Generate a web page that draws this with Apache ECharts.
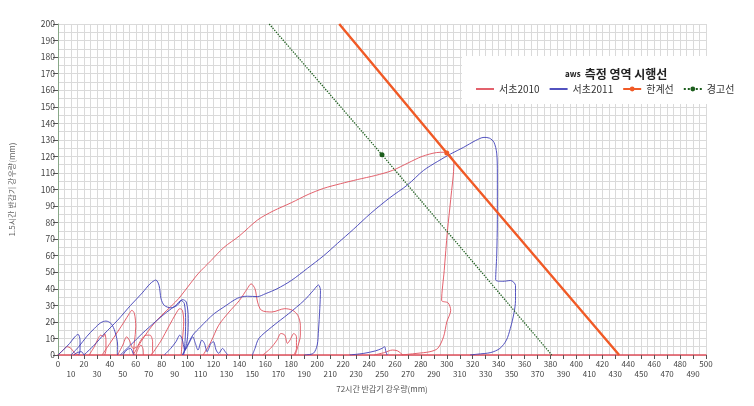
<!DOCTYPE html>
<html><head><meta charset="utf-8">
<script src="https://cdn.jsdelivr.net/npm/echarts@6/dist/echarts.min.js"></script>
<style>html,body{margin:0;padding:0;background:#fff}#c{width:754px;height:406px}</style>
</head><body><div id="c"></div>
<script>
const FONT = "'Noto Sans CJK KR', 'Noto Sans', sans-serif";
const xAxisName = '72시간 반감기 강우량(mm)';
const yAxisName = '1.5시간 반감기 강우량(mm)';
const titleSmall = 'aws';
const titleMain = '측정 영역 시행선';
const legendNames = ['서초2010', '서초2011', '한계선', '경고선'];
const xMin = 0, xMax = 500, xStep = 10;
const yMin = 0, yMax = 200, yStep = 10;

// 서초2010 (red) event loops
const red1 = [[0,0],[4,3],[7,5],[10,4],[13,1],[16,0]];
const red2 = [[24,0],[28,5],[31,10],[33,12],[35,11],[36,13],[37,9],[37,3],[36,0]];
const red3 = [[34,0],[40,7],[46,14],[51,20],[55,25],[57,27],[59,25],[60,17],[59,8],[58,0]];
const red4 = [[46,0],[50,6],[53,11],[55,9],[58,4],[61,5],[64,9],[68,12],[71,12],[73,8],[73,2],[72,0]];
const red5 = [[60,0],[62,4],[64,6],[65.5,4],[66,0]];
const red6 = [[58,0],[64,8],[72,17],[80,24],[88,30],[93,34],[100,41],[108,49],[118,57],[128,65],[140,72],[154,81.6],[166,87],[180,92],[193,97],[205,100.7],[218,103.5],[231,106],[245,108.5],[258,111.5],[270,116],[281,120],[292,122.3],[298,122.5],[302,121.3],[305.5,116],[303,94],[300.5,75],[298,51],[296,33],[301,31.5],[303,27],[300,20],[297.5,11],[293,4],[287,2],[277,1],[265,0]];
const red7 = [[72,0],[79,8],[86,18],[91,25],[94,28],[96,27],[97,20],[96,9],[95,0]];
const red8 = [[112,0],[118,8],[124,18],[132,26],[140,33],[146,40],[149,43],[152,40],[154,32],[157,27],[165,26],[175,28],[181,27],[185,24],[187,18],[187,12],[185,5],[183,0]];
const red9 = [[158,0],[164,4],[169,9],[172,13],[175,12],[177,7],[179,9],[182,13],[184,11],[184,4],[182,0]];
const red10 = [[244,0],[252,1.5],[258,3],[262,2.5],[266,0]];

// 서초2011 (blue) event loops
const blue1 = [[0,0],[4,3],[9,7],[13,11],[15.5,12.5],[17,9],[17,3],[16,0]];
const blue2 = [[10,0],[16,5],[22,11],[28,16],[33,19.5],[37,20.5],[41,19],[44,14],[46,6],[46,0]];
const blue3 = [[20,0],[28,6],[36,13],[46,21],[56,30],[65,37.5],[71,43],[75.5,45.3],[78,42],[79.5,34],[82,30],[87,28.5],[92,30],[96,33.5],[99,32],[100.5,22],[100,11],[98,3],[96,0]];
const blue4 = [[48,0],[56,6],[65,13],[75,20],[84,26],[91,30],[95,33],[97.5,31],[98.5,20],[98,8],[97,0]];
const blue5 = [[82,0],[87,4],[91,8],[94,12],[96,9],[98,3],[101,7],[104,11],[106,7],[108,3],[111,9],[113,7],[115,2],[118,7],[120,8],[122,3],[124,1],[127,4],[129,2],[131,0]];
const blue6 = [[96,0],[100,6],[104,12],[110,17],[115,21],[120.5,25],[128,29],[138.5,34.3],[146,35.5],[154,35.3],[160,37],[169,40],[180,45],[192.5,52.4],[205,60],[215.6,67.4],[228,76],[241.3,85.6],[256,95],[269.6,102.7],[282,111.5],[293,117],[303,121.5],[313,125.5],[322,129.5],[328.7,131.5],[333,131],[336.4,128.5],[338.5,122],[339,110],[339,82],[338.5,60],[337.7,45.5],[343,44.5],[349.3,45],[353,42],[353,33],[351.8,25.2],[349,16],[346,9],[341,4],[334,1.5],[323.6,0.5],[318,0]];
const blue7 = [[150,0],[152,4],[155,10],[165,17],[178,25],[190,33],[197,39],[201,42.3],[202.5,39],[202,28],[201,15],[200,6],[197,1],[190,0]];
const blue8 = [[225,0],[236,1],[245,2.5],[250,4],[252,5],[253,2],[254,0]];
const blue9 = [[12,0],[15,1.5],[18,2],[20,0]];
const blue10 = [[50,0],[53,3],[56,4],[58,1],[59,0]];

// threshold lines
const limitLine = [[217,200],[300,122],[433,0]];
const warnLine = [[163,200],[250,121],[381,0]];

const redLoops = [red1, red2, red3, red4, red5, red6, red7, red8, red9, red10];
const blueLoops = [blue1, blue2, blue3, blue4, blue5, blue6, blue7, blue8, blue9, blue10];

const RED = '#e0505c', BLUE = '#3f3fb8', ORANGE = '#f05a26', GREEN = '#1d5e1d';

function loopSeries(loops, name, color) {
  return loops.map(d => ({
    type: 'line', name: name, data: d, symbol: 'none', smooth: 0.3,
    lineStyle: { color: color, width: 1, opacity: 0.9 }, itemStyle: { color: color }, z: 3
  }));
}
function thresholdSeries(pts, name, color, type, width) {
  return {
    type: 'line', name: name, symbol: 'circle', symbolSize: 5,
    data: pts.map((p, i) => i === 1 ? { value: p } : { value: p, symbol: 'none' }),
    lineStyle: { color: color, width: width, type: type }, itemStyle: { color: color }, z: 4
  };
}

const gridLine = { show: true, lineStyle: { color: '#dadada', width: 1 } };

const chart = echarts.init(document.getElementById('c'), null, { renderer: 'canvas' });
chart.setOption({
  animation: false,
  textStyle: { fontFamily: FONT },
  grid: { left: 57, right: 48, top: 24, bottom: 51 },
  graphic: [{ type: 'rect', z: 1, shape: { x: 462, y: 56, width: 286, height: 48 }, style: { fill: '#fff' } }],
  title: {
    text: '{s|' + titleSmall + '} {b|' + titleMain + '}',
    left: 560, top: 60,
    textStyle: { rich: {
      s: { fontFamily: FONT, fontSize: 8, fontWeight: 'bold', color: '#222' },
      b: { fontFamily: FONT, fontSize: 12, fontWeight: 'bold', color: '#222' }
    } }
  },
  legend: {
    data: [
      { name: legendNames[0], itemStyle: { opacity: 0 } },
      { name: legendNames[1], itemStyle: { opacity: 0 } },
      { name: legendNames[2] },
      { name: legendNames[3] }
    ],
    left: 470, top: 79, width: 290, itemWidth: 18, itemHeight: 6, itemGap: 9,
    textStyle: { fontFamily: FONT, fontSize: 10, color: '#333' }
  },
  xAxis: [{
    type: 'value', min: xMin, max: xMax, interval: xStep,
    name: xAxisName, nameLocation: 'middle', nameGap: 30,
    nameTextStyle: { fontFamily: FONT, fontSize: 8, color: '#555' },
    axisLine: { lineStyle: { color: '#e0505c', width: 1.5 } },
    axisTick: { show: true, length: 4, lineStyle: { color: '#555' } },
    axisLabel: { fontSize: 8, color: '#444', margin: 5,
      showMinLabel: true, showMaxLabel: true,
      formatter: v => (v % 20 === 0 ? String(v) : '') },
    splitLine: gridLine,
    minorTick: { show: false, splitNumber: 2 },
    minorSplitLine: gridLine
  }, {
    type: 'value', min: xMin, max: xMax, interval: xStep, position: 'bottom',
    axisLine: { show: false }, axisTick: { show: false }, splitLine: { show: false },
    axisLabel: { fontSize: 8, color: '#444', margin: 15,
      formatter: v => (v % 20 === 0 ? '' : String(v)) }
  }],
  yAxis: {
    type: 'value', min: yMin, max: yMax, interval: yStep,
    name: yAxisName, nameLocation: 'middle', nameGap: 42,
    nameTextStyle: { fontFamily: FONT, fontSize: 8, color: '#666' },
    axisLine: { show: true, lineStyle: { color: '#88a888', width: 1 } },
    axisTick: { show: true, length: 5, lineStyle: { color: '#555' } },
    axisLabel: { fontSize: 8.5, color: '#444', margin: 3 },
    splitLine: gridLine,
    minorTick: { show: false, splitNumber: 2 },
    minorSplitLine: gridLine
  },
  series: [].concat(
    loopSeries(redLoops, legendNames[0], RED),
    loopSeries(blueLoops, legendNames[1], BLUE),
    [thresholdSeries(limitLine, legendNames[2], ORANGE, 'solid', 2.4),
     thresholdSeries(warnLine, legendNames[3], GREEN, 'dotted', 1.3)]
  )
});
</script></body></html>
